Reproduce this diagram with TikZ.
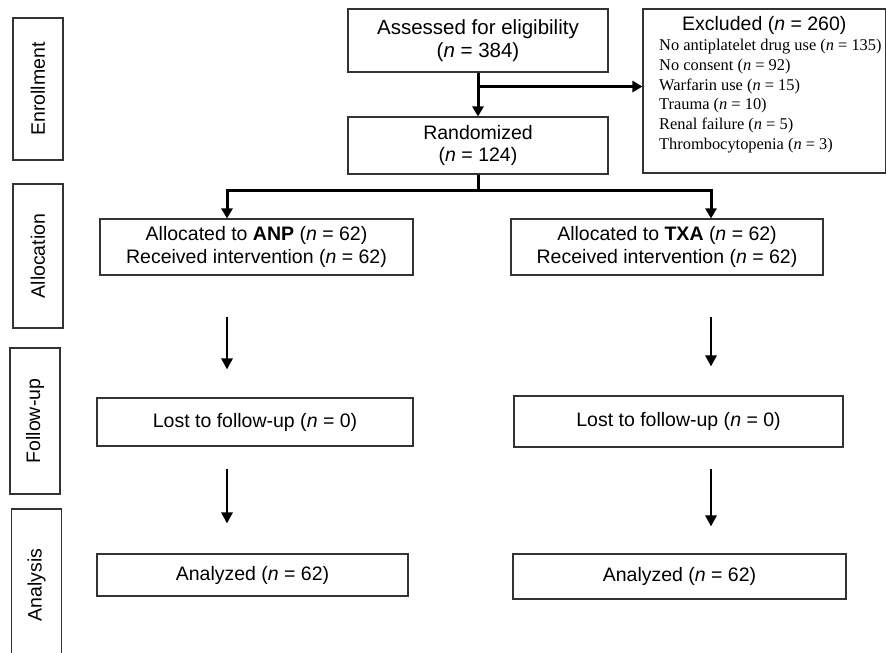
\documentclass[tikz,border=0pt]{standalone}
\usepackage{fontspec}
\setmainfont{Liberation Sans}
\newfontfamily\listfont{Liberation Serif}
\usetikzlibrary{positioning,calc,arrows.meta}

\tikzset{
  flowbox/.style={draw=black!80, line width=1.1pt, inner sep=0pt, align=center,
    font=\fontsize{19.5}{22.5}\selectfont},
  sidebox/.style={draw=black!80, line width=1.1pt, inner sep=0pt, rotate=90,
    minimum height=50pt, font=\fontsize{19.5}{22.5}\selectfont},
  listtext/.style={inner sep=0pt, align=left, font=\listfont\fontsize{16.4}{19.8}\selectfont},
  link/.style={line width=3pt, -{Triangle[width=11pt,length=10pt]}},
  flowarrow/.style={line width=2.8pt, -{Triangle[width=11pt,length=11pt]}}
}

\begin{document}
\begin{tikzpicture}[x=1pt,y=-1pt]
      \useasboundingbox (0,0) rectangle (886,653);
      \clip (0,0) rectangle (886,653);

      % Stage labels
      \node[sidebox, minimum width=142pt] (enrol) at (38,89) {Enrollment};
      \node[sidebox, minimum width=144pt] (alloc) at (38,256) {Allocation};
      \node[sidebox, minimum width=146pt] (follow) at (35,421) {Follow-up};
      \node[sidebox, minimum width=152pt] (analys) at (36.5,585) {Analysis};

      % Enrollment
      \node[flowbox, minimum width=260pt, minimum height=63pt, font=\fontsize{20.5}{23}\selectfont]
        (assess) at (478,40.5) {Assessed for eligibility\\(\textit{n} = 384)};
      \node[flowbox, minimum width=260pt, minimum height=57pt] (rand) at (478,145.5)
        {Randomized\\(\textit{n} = 124)};
      \node[flowbox, minimum width=242.5pt, minimum height=164pt] (excl) at (764.25,91) {};
      \node[flowbox, draw=none, below=7pt of excl.north] (excltitle) {Excluded (\textit{n} = 260)};
      \node[listtext, anchor=north west] (excllist) at (659,39)
        {No antiplatelet drug use (\textit{n} = 135)\\
         No consent (\textit{n} = 92)\\
         Warfarin use (\textit{n} = 15)\\
         Trauma (\textit{n} = 10)\\
         Renal failure (\textit{n} = 5)\\
         Thrombocytopenia (\textit{n} = 3)};

      % Allocation
      \node[flowbox, minimum width=313pt, minimum height=56pt] (anp) at (256.5,247)
        {Allocated to \textbf{ANP} (\textit{n} = 62)\\Received intervention (\textit{n} = 62)};
      \node[flowbox, minimum width=312pt, minimum height=56pt] (txa) at (667,247)
        {Allocated to \textbf{TXA} (\textit{n} = 62)\\Received intervention (\textit{n} = 62)};

      % Follow-up
      \node[flowbox, minimum width=316pt, minimum height=48pt] (lostA) at (255,422)
        {Lost to follow-up (\textit{n} = 0)};
      \node[flowbox, minimum width=329pt, minimum height=51pt] (lostT) at (678.5,421.5)
        {Lost to follow-up (\textit{n} = 0)};

      % Analysis
      \node[flowbox, minimum width=311pt, minimum height=42pt] (anaA) at (252.5,575)
        {Analyzed (\textit{n} = 62)};
      \node[flowbox, minimum width=333pt, minimum height=45pt] (anaT) at (679.5,576.5)
        {Analyzed (\textit{n} = 62)};

      % Connectors
      \coordinate (colA) at (227,0);
      \coordinate (colT) at (711,0);
      \coordinate (exclsplit) at ($(assess.south)+(0,14)$);
      \coordinate (randsplit) at ($(rand.south)+(0,16)$);

      \draw[link] (assess.south) -- (rand.north);
      \draw[link] (exclsplit) -- (exclsplit -| excl.west);
      \draw[line width=3pt] (rand.south) -- (randsplit);
      \draw[link] (randsplit) -| (colA |- anp.north);
      \draw[link] (randsplit) -| (colT |- txa.north);

      \draw[flowarrow, shorten <=41pt, shorten >=28pt] (colA |- anp.south) -- (colA |- lostA.north);
      \draw[flowarrow, shorten <=41pt, shorten >=29pt] (colT |- txa.south) -- (colT |- lostT.north);
      \draw[flowarrow, shorten <=22pt, shorten >=30pt] (colA |- lostA.south) -- (colA |- anaA.north);
      \draw[flowarrow, shorten <=21pt, shorten >=27pt] (colT |- lostT.south) -- (colT |- anaT.north);
    \end{tikzpicture}
\end{document}
